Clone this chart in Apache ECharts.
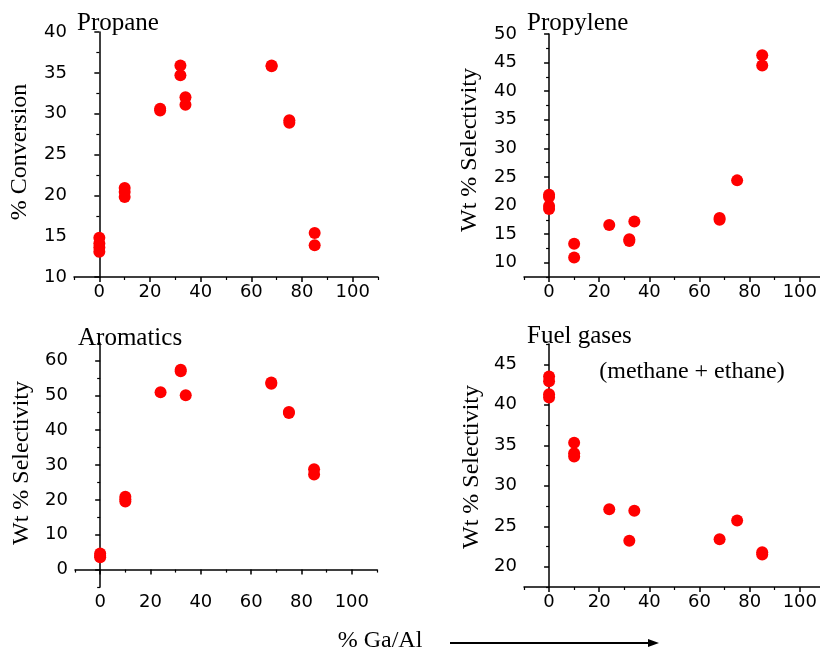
<!DOCTYPE html>
<html>
<head>
<meta charset="utf-8">
<script src="https://cdn.jsdelivr.net/npm/echarts@6/dist/echarts.min.js"></script>
<style>
  html, body { margin: 0; padding: 0; background: #fff; }
  #chart { width: 820px; height: 652px; }
</style>
</head>
<body>
<div id="chart"></div>
<script>
// % Ga/Al loading of each sample and the measured responses
const propaneGaAl       = [0, 0, 0, 0, 10, 10, 10, 24, 24, 32, 32, 34, 34, 68, 68, 75, 75, 85, 85];
const propaneConversion = [14.8, 14.1, 13.6, 13.1, 20.9, 20.4, 19.8, 30.6, 30.4, 35.9, 34.7, 32.0, 31.1, 35.9, 35.8, 29.2, 28.9, 15.4, 13.9];

const propyleneGaAl        = [0, 0, 0, 0, 10, 10, 24, 32, 32, 34, 68, 68, 75, 85, 85];
const propyleneSelectivity = [21.9, 21.5, 19.9, 19.4, 13.3, 10.9, 16.6, 14.1, 13.8, 17.2, 17.8, 17.5, 24.4, 46.3, 44.5];

const aromaticsGaAl        = [0, 0, 0, 10, 10, 10, 24, 32, 32, 34, 68, 68, 75, 75, 85, 85];
const aromaticsSelectivity = [4.6, 4.0, 3.5, 20.9, 20.2, 19.5, 50.9, 57.3, 56.9, 50.0, 53.7, 53.3, 45.2, 44.9, 28.8, 27.3];

const fuelGaAl        = [0, 0, 0, 0, 10, 10, 10, 24, 32, 34, 68, 75, 85, 85];
const fuelSelectivity = [43.5, 42.9, 41.3, 40.9, 35.3, 34.0, 33.6, 27.1, 23.2, 26.9, 23.4, 25.7, 21.8, 21.5];

// tick positions
const xMajorTicks      = [0, 20, 40, 60, 80, 100];
const xMinorTicks      = [-10, 10, 30, 50, 70, 90, 110];
const propaneTicks     = [10, 15, 20, 25, 30, 35, 40];
const propaneMinor     = [12.5, 17.5, 22.5, 27.5, 32.5, 37.5];
const propyleneTicks   = [10, 15, 20, 25, 30, 35, 40, 45, 50];
const propyleneMinor   = [7.5, 12.5, 17.5, 22.5, 27.5, 32.5, 37.5, 42.5, 47.5];
const aromaticsTicks   = [0, 10, 20, 30, 40, 50, 60];
const aromaticsMinor   = [-5, 5, 15, 25, 35, 45, 55, 65];
const fuelTicks        = [20, 25, 30, 35, 40, 45];
const fuelMinor        = [17.5, 22.5, 27.5, 32.5, 37.5, 42.5, 47.5];

const panelTitles = ['Propane', 'Propylene', 'Aromatics', 'Fuel gases'];
const yNames = ['% Conversion', 'Wt % Selectivity', 'Wt % Selectivity', 'Wt % Selectivity'];

const SANS = '"DejaVu Sans", sans-serif';
const SERIF = '"Liberation Serif", "Times New Roman", serif';
const LINE = { show: true, lineStyle: { color: '#000', width: 1.5 } };

const grids = [
  { left: 74,  top: 32,  width: 304, height: 245 },
  { left: 524, top: 34,  width: 296, height: 243 },
  { left: 75,  top: 343, width: 302, height: 244 },
  { left: 524, top: 344, width: 296, height: 243 }
];
const xRanges = [[-10, 110], [-10, 108], [-10, 110], [-10, 108]];
const yRanges = [[10, 40], [7.5, 50], [-5, 65], [17.5, 47.5]];
const yMajor = [propaneTicks, propyleneTicks, aromaticsTicks, fuelTicks];
const yMinor = [propaneMinor, propyleneMinor, aromaticsMinor, fuelMinor];

const xAxes = [], yAxes = [];
grids.forEach((g, i) => {
  const [x0, x1] = xRanges[i];
  const [y0, y1] = yRanges[i];
  // labelled axes
  xAxes.push({
    type: 'value', gridIndex: i, min: x0, max: x1, position: 'bottom',
    axisLine: LINE, splitLine: { show: false },
    axisTick: { show: true, length: 5, customValues: xMajorTicks, lineStyle: { color: '#000', width: 1.5 } },
    axisLabel: { customValues: xMajorTicks, color: '#000', fontFamily: SANS, fontSize: 18, margin: 6 }
  });
  yAxes.push({
    type: 'value', gridIndex: i, min: y0, max: y1, position: 'left',
    axisLine: LINE, splitLine: { show: false },
    axisTick: { show: true, length: 5, customValues: yMajor[i], lineStyle: { color: '#000', width: 1.5 } },
    axisLabel: { customValues: yMajor[i], color: '#000', fontFamily: SANS, fontSize: 18, margin: 7 }
  });
  // minor tick overlays
  xAxes.push({
    type: 'value', gridIndex: i, min: x0, max: x1, position: 'bottom',
    axisLine: { show: false }, splitLine: { show: false }, axisLabel: { show: false },
    axisTick: { show: true, length: 3, customValues: xMinorTicks.filter(v => v >= x0 && v <= x1), lineStyle: { color: '#000', width: 1.2 } }
  });
  yAxes.push({
    type: 'value', gridIndex: i, min: y0, max: y1, position: 'left',
    axisLine: { show: false }, splitLine: { show: false }, axisLabel: { show: false },
    axisTick: { show: true, length: 3, customValues: yMinor[i].filter(v => v >= y0 && v <= y1), lineStyle: { color: '#000', width: 1.2 } }
  });
});

function pairs(xs, ys) { return xs.map((x, k) => [x, ys[k]]); }
const seriesData = [
  pairs(propaneGaAl, propaneConversion),
  pairs(propyleneGaAl, propyleneSelectivity),
  pairs(aromaticsGaAl, aromaticsSelectivity),
  pairs(fuelGaAl, fuelSelectivity)
];
const series = seriesData.map((d, i) => ({
  type: 'scatter', xAxisIndex: i * 2, yAxisIndex: i * 2, data: d,
  symbol: 'circle', symbolSize: 12, itemStyle: { color: '#ff0000', opacity: 1 },
  emphasis: { disabled: true }, animation: false
}));

// panel headings and axis names
const titlePos = [[77, 23], [527, 23], [78, 338], [527, 336]];
const yNamePos = [[20, 152], [470, 150], [22, 463], [472, 467]];
const graphic = [];
panelTitles.forEach((t, i) => {
  graphic.push({ type: 'text', x: titlePos[i][0], y: titlePos[i][1], style: {
    text: t, font: '25px ' + SERIF, fill: '#000', align: 'left', verticalAlign: 'middle' } });
});
yNames.forEach((t, i) => {
  graphic.push({ type: 'text', x: yNamePos[i][0], y: yNamePos[i][1], rotation: Math.PI / 2, style: {
    text: t, font: '24px ' + SERIF, fill: '#000', align: 'center', verticalAlign: 'middle' } });
});
graphic.push({ type: 'text', x: 692, y: 372, style: {
  text: '(methane + ethane)', font: '24px ' + SERIF, fill: '#000', align: 'center', verticalAlign: 'middle' } });
graphic.push({ type: 'text', x: 380, y: 641, style: {
  text: '% Ga/Al', font: '24px ' + SERIF, fill: '#000', align: 'center', verticalAlign: 'middle' } });
// direction arrow under the x axes
graphic.push({ type: 'line', shape: { x1: 450, y1: 643, x2: 650, y2: 643 }, style: { stroke: '#000', lineWidth: 2 } });
graphic.push({ type: 'polygon', shape: { points: [[659, 643], [648, 639], [648, 647]] }, style: { fill: '#000' } });

const chart = echarts.init(document.getElementById('chart'), null, { renderer: 'canvas' });
chart.setOption({
  animation: false,
  backgroundColor: '#fff',
  grid: grids,
  xAxis: xAxes,
  yAxis: yAxes,
  series: series,
  graphic: graphic
});
</script>
</body>
</html>
